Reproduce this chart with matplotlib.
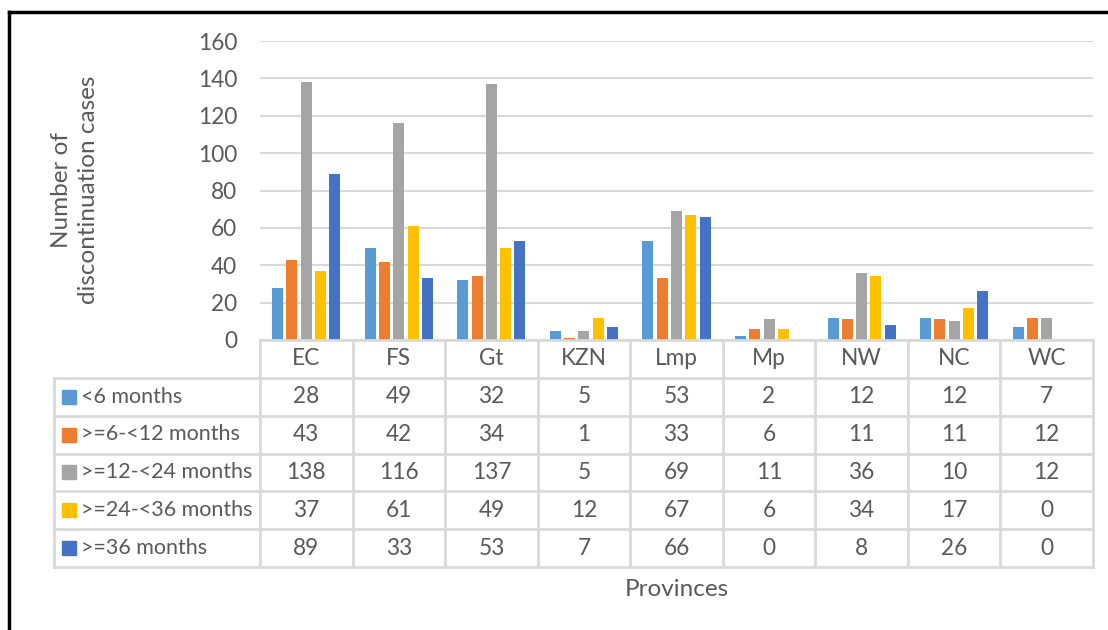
import matplotlib.pyplot as plt
from matplotlib.patches import Rectangle
from matplotlib.lines import Line2D

provinces = ["EC", "FS", "Gt", "KZN", "Lmp", "Mp", "NW", "NC", "WC"]
series_names = ["<6 months", ">=6-<12 months", ">=12-<24 months",
                ">=24-<36 months", ">=36 months"]
lt6 = [28, 49, 32, 5, 53, 2, 12, 12, 7]
m6_12 = [43, 42, 34, 1, 33, 6, 11, 11, 12]
m12_24 = [138, 116, 137, 5, 69, 11, 36, 10, 12]
m24_36 = [37, 61, 49, 12, 67, 6, 34, 17, 0]
ge36 = [89, 33, 53, 7, 66, 0, 8, 26, 0]
series_vals = [lt6, m6_12, m12_24, m24_36, ge36]
colors = ["#5b9bd5", "#ed7d31", "#a5a5a5", "#ffc000", "#4472c4"]

plt.rcParams['font.family'] = ['Lato', 'DejaVu Sans']
TXT = "#595959"
GRID = "#d9d9d9"
FS = 16.3

W, H = 1108, 630
fig = plt.figure(figsize=(W / 100, H / 100), dpi=100)

def px_axes(x0, y0, x1, y1):
    # pixel box (top-left origin) -> figure axes
    return fig.add_axes([x0 / W, 1 - y1 / H, (x1 - x0) / W, (y1 - y0) / H])

# main bar chart
ax = px_axes(260, 41, 1093, 340)
step = 0.1545
bw = 0.119
for j, vals in enumerate(series_vals):
    xs = [i + (j - 2) * step for i in range(len(provinces))]
    ax.bar(xs, vals, width=bw, color=colors[j], zorder=3)
ax.set_xlim(-0.5, len(provinces) - 0.5)
ax.set_ylim(0, 160)
ax.set_yticks(range(0, 161, 20))
ax.set_xticks([])
ax.yaxis.grid(True, color=GRID, linewidth=1.5, zorder=0)
for s in ax.spines.values():
    s.set_visible(False)
ax.tick_params(axis="y", length=0, pad=16.5, labelsize=FS, labelcolor=TXT)

# data table underneath
tx = px_axes(54, 340, 1093, 567)
cat_px = (1093 - 260) / len(provinces)
left = -0.5 - (260 - 54) / cat_px
tx.set_xlim(left, len(provinces) - 0.5)
tx.set_ylim(6, 0)
tx.axis("off")
lw = 2
# horizontal lines
tx.plot([-0.5, len(provinces) - 0.5], [0, 0], color=GRID, lw=lw, clip_on=False)
for r in range(1, 7):
    tx.plot([left, len(provinces) - 0.5], [r, r], color=GRID, lw=lw, clip_on=False)
# vertical lines
tx.plot([left, left], [1, 6], color=GRID, lw=lw, clip_on=False)
for c in range(len(provinces) + 1):
    tx.plot([c - 0.5, c - 0.5], [0, 6], color=GRID, lw=lw, clip_on=False)
for i, p in enumerate(provinces):
    tx.text(i, 0.5, p, ha="center", va="center", fontsize=FS, color=TXT)
for j, vals in enumerate(series_vals):
    for i, v in enumerate(vals):
        tx.text(i, j + 1.5, str(v), ha="center", va="center", fontsize=FS, color=TXT)

# legend keys + series names in first column
for j, name in enumerate(series_names):
    ky = 340 + 37.8 * (j + 1.5)
    fig.patches.append(Rectangle((62 / W, 1 - (ky + 7) / H), 14 / W, 14 / H,
                                 transform=fig.transFigure, color=colors[j]))
    fig.text(81 / W, 1 - ky / H, name, ha="left", va="center",
             fontsize=15.5, color=TXT)

fig.text(677 / W, 1 - 590 / H, "Provinces", ha="center", va="center",
         fontsize=17.5, color=TXT)
fig.text(75 / W, 1 - 190 / H, "Number of\ndiscontinuation cases", ha="center",
         va="center", rotation=90, fontsize=17.5, color=TXT, linespacing=1.3)

# black frame on left and top
fig.lines.append(Line2D([9 / W, 9 / W], [0, 1 - 12 / H], transform=fig.transFigure,
                        color="black", lw=2.5))
fig.lines.append(Line2D([9 / W, 1], [1 - 12 / H, 1 - 12 / H], transform=fig.transFigure,
                        color="black", lw=2.5))

fig.savefig("out.png", dpi=100, facecolor="white")
